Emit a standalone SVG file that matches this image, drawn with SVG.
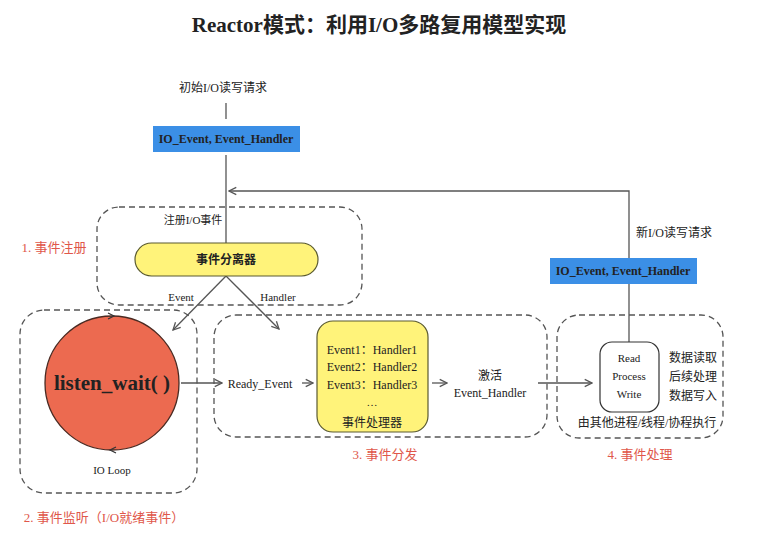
<svg xmlns="http://www.w3.org/2000/svg" width="757" height="540" viewBox="0 0 757 540">
<defs>
<style>
.t{font-family:"Liberation Serif","Noto Sans CJK SC",serif;fill:#222;}
.s{font-size:11px;}
.m{font-size:12px;}
.r{fill:#e0574a;font-size:13px;}
.dash{fill:none;stroke:#555;stroke-width:1.3;stroke-dasharray:6 4;}
.ln{fill:none;stroke:#555;stroke-width:1.3;}
.blue{fill:#3b8fe6;}
.yel{fill:#fff37a;stroke:#5a5a30;stroke-width:1.2;}
</style>
<marker id="ah" viewBox="0 0 10 10" refX="9" refY="5" markerWidth="7" markerHeight="7" orient="auto-start-reverse">
<path d="M1,1 L9,5 L1,9" fill="none" stroke="#555" stroke-width="1.4"/>
</marker>
</defs>
<rect width="757" height="540" fill="#fff"/>
<text class="t" x="379" y="32" text-anchor="middle" font-size="21" font-weight="bold">Reactor模式：利用I/O多路复用模型实现</text>

<g id="connectors">
<line class="ln" x1="226" y1="103" x2="226" y2="119"/>
<line class="ln" x1="226" y1="155" x2="226" y2="243"/>
<polyline class="ln" points="629,258 629,191 229,191" marker-end="url(#ah)"/>
<line class="ln" x1="629" y1="284" x2="629" y2="342"/>
<line class="ln" x1="226" y1="276" x2="173" y2="330" marker-end="url(#ah)"/>
<line class="ln" x1="226" y1="276" x2="279" y2="329" marker-end="url(#ah)"/>
<line class="ln" x1="181" y1="383" x2="222" y2="383" marker-end="url(#ah)"/>
<line class="ln" x1="302" y1="383" x2="313" y2="383" marker-end="url(#ah)"/>
<line class="ln" x1="432" y1="383" x2="447" y2="383" marker-end="url(#ah)"/>
<line class="ln" x1="538" y1="383" x2="592" y2="383" marker-end="url(#ah)"/>
</g>

<g id="init-label"><text class="t m" x="223" y="92" text-anchor="middle">初始I/O读写请求</text></g>

<g id="io-event-1">
<rect class="blue" x="153" y="126" width="147" height="26"/>
<text class="t m" x="226" y="143" text-anchor="middle" font-weight="bold">IO_Event, Event_Handler</text>
</g>

<g id="register">
<rect class="dash" x="97" y="207" width="265" height="98" rx="22"/>
<text class="t s" x="193" y="224" text-anchor="middle">注册I/O事件</text>
<rect class="yel" x="135" y="243" width="183" height="33" rx="16.5"/>
<text class="t m" x="226" y="264" text-anchor="middle" font-weight="bold">事件分离器</text>
<text class="t s" x="181" y="301" text-anchor="middle">Event</text>
<text class="t s" x="278" y="301" text-anchor="middle">Handler</text>
<text class="t r" x="54" y="252" text-anchor="middle">1. 事件注册</text>
</g>

<g id="listen">
<rect class="dash" x="20" y="310" width="177" height="183" rx="24"/>
<circle cx="112" cy="383" r="67" fill="#ec6a50" stroke="#4a2a22" stroke-width="1.3"/>
<path d="M108,313 L114,316 L108,319" fill="none" stroke="#333" stroke-width="1.2"/>
<path d="M116,447 L110,450 L116,453" fill="none" stroke="#333" stroke-width="1.2"/>
<text class="t" x="112" y="390" text-anchor="middle" font-size="21" font-weight="bold">listen_wait( )</text>
<text class="t s" x="112" y="474" text-anchor="middle">IO Loop</text>
<text class="t r" x="104" y="522" text-anchor="middle">2. 事件监听（I/O就绪事件）</text>
</g>

<g id="dispatch">
<rect class="dash" x="214" y="315" width="333" height="122" rx="22"/>
<text class="t m" x="260" y="388" text-anchor="middle">Ready_Event</text>
<rect class="yel" x="317" y="321" width="111" height="111" rx="16"/>
<text class="t m" x="372" y="354" text-anchor="middle">Event1：Handler1</text>
<text class="t m" x="372" y="371" text-anchor="middle">Event2：Handler2</text>
<text class="t m" x="372" y="389" text-anchor="middle">Event3：Handler3</text>
<text class="t s" x="372" y="406" text-anchor="middle">…</text>
<text class="t m" x="372" y="427" text-anchor="middle">事件处理器</text>
<text class="t m" x="490" y="380" text-anchor="middle">激活</text>
<text class="t m" x="490" y="397" text-anchor="middle">Event_Handler</text>
<text class="t r" x="385" y="459" text-anchor="middle">3. 事件分发</text>
</g>

<g id="new-label"><text class="t m" x="674" y="237" text-anchor="middle">新I/O读写请求</text></g>

<g id="io-event-2">
<rect class="blue" x="550" y="258" width="147" height="26"/>
<text class="t m" x="623" y="275" text-anchor="middle" font-weight="bold">IO_Event, Event_Handler</text>
</g>

<g id="process">
<rect class="dash" x="557" y="315" width="166" height="123" rx="22"/>
<rect x="600" y="342" width="59" height="70" rx="12" fill="#fff" stroke="#333" stroke-width="1.2"/>
<text class="t s" x="629" y="362" text-anchor="middle">Read</text>
<text class="t s" x="629" y="380" text-anchor="middle">Process</text>
<text class="t s" x="629" y="398" text-anchor="middle">Write</text>
<text class="t m" x="693" y="362" text-anchor="middle">数据读取</text>
<text class="t m" x="693" y="381" text-anchor="middle">后续处理</text>
<text class="t m" x="693" y="400" text-anchor="middle">数据写入</text>
<text class="t m" x="647" y="427" text-anchor="middle">由其他进程/线程/协程执行</text>
<text class="t r" x="640" y="459" text-anchor="middle">4. 事件处理</text>
</g>
</svg>
